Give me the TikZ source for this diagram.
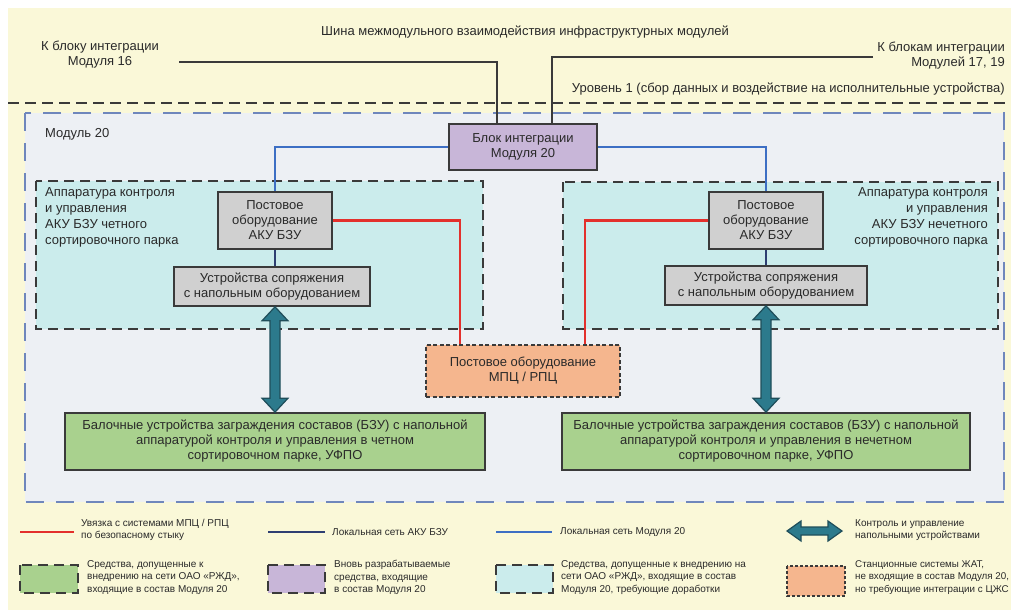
\documentclass[tikz,border=0pt]{standalone}
\usepackage{fontspec}
\setmainfont{Liberation Sans}
\usetikzlibrary{calc}
\definecolor{bgyellow}{HTML}{FAF8D8}
\definecolor{modfill}{HTML}{EDF0F4}
\definecolor{modedge}{HTML}{6F87BC}
\definecolor{cyanfill}{HTML}{CBECEC}
\definecolor{grayfill}{HTML}{D0D0D0}
\definecolor{purplefill}{HTML}{C8B6D8}
\definecolor{orangefill}{HTML}{F5B68E}
\definecolor{greenfill}{HTML}{A9D18E}
\definecolor{tealfill}{HTML}{2C7A8C}
\definecolor{tealedge}{HTML}{1F4E5A}
\definecolor{safered}{HTML}{E3302C}
\definecolor{lanblue}{HTML}{3D6FC4}
\definecolor{lannavy}{HTML}{2E3F72}
\definecolor{inkdark}{HTML}{2A2A2A}
\definecolor{edgedark}{HTML}{3A3A3A}
\newcommand\txt{\fontsize{13}{15}\selectfont}
\newcommand\legtxt{\fontsize{10}{12.5}\selectfont}
\begin{document}
\begin{tikzpicture}[x=1pt,y=-1pt,
  every node/.style={text=inkdark},
  box/.style={draw=edgedark, line width=1.6pt, align=center, font=\txt, inner sep=0pt},
  graybox/.style={box, fill=grayfill},
  greenbox/.style={box, fill=greenfill},
  purplebox/.style={box, fill=purplefill, line width=1.8pt},
  orangebox/.style={box, fill=orangefill, dash pattern=on 4pt off 2.5pt, line width=1.8pt},
  region/.style={fill=cyanfill, draw=edgedark, line width=1.9pt, dash pattern=on 10pt off 6pt},
  label/.style={font=\txt, align=left, inner sep=0pt},
  legend/.style={font=\legtxt, align=left, inner sep=0pt, anchor=west},
  bus/.style={draw=edgedark, line width=1.8pt},
  lan20/.style={draw=lanblue, line width=2.2pt},
  lanaku/.style={draw=lannavy, line width=1.9pt},
  safety/.style={draw=safered, line width=2.4pt},
  ctrlarrow/.style={fill=tealfill, draw=tealedge, line width=1.2pt, line join=miter},
  legbox/.style={fill=#1, draw=edgedark, line width=1.5pt, dash pattern=on 10pt off 6pt},
]
\useasboundingbox (0,0) rectangle (1015,614);
\fill[white] (0,0) rectangle (1015,614);
\fill[bgyellow] (8,8) rectangle (1011,610);

% level 1 boundary
\draw[edgedark, line width=1.6pt, dash pattern=on 11pt off 6pt] (8,103) -- (1011,103);
\node[label, anchor=south east] (lvl) at (1005,95) {Уровень 1 (сбор данных и воздействие на исполнительные устройства)};

% module 20 area
\draw[fill=modfill, draw=modedge, line width=1.5pt, dash pattern=on 18pt off 12pt] (25,113) rectangle (1004,502);
\node[label, anchor=west] (m20) at (45,134) {Модуль 20};

% even / odd yard regions
\draw[region] (36,181) rectangle (483,329);
\draw[region] (563,182) rectangle (998,329);
\node[label, anchor=north west, font=\fontsize{13}{16}\selectfont] (regLtxt) at (45,187)
  {Аппаратура контроля\\и управления\\АКУ БЗУ четного\\сортировочного парка};
\node[label, anchor=north east, align=right, font=\fontsize{13}{16}\selectfont] (regRtxt) at (988,187)
  {Аппаратура контроля\\и управления\\АКУ БЗУ нечетного\\сортировочного парка};

% top bus texts
\node[label, anchor=center] (bus) at (525,32) {Шина межмодульного взаимодействия инфраструктурных модулей};
\node[label, align=center, anchor=center] (k16) at (100,55) {К блоку интеграции\\Модуля 16};
\node[label, align=right, anchor=north east] (k17) at (1005,42) {К блокам интеграции\\Модулей 17, 19};

% boxes
\node[purplebox, minimum width=148, minimum height=46] (blk) at (523,147) {Блок интеграции\\Модуля 20};
\node[graybox, minimum width=114, minimum height=57] (pl) at (275,220.5) {Постовое\\оборудование\\АКУ БЗУ};
\node[graybox, minimum width=114, minimum height=57] (pr) at (766,220.5) {Постовое\\оборудование\\АКУ БЗУ};
\node[graybox, minimum width=196, minimum height=39] (ul) at (272,286.5) {Устройства сопряжения\\с напольным оборудованием};
\node[graybox, minimum width=202, minimum height=39] (ur) at (766,285.5) {Устройства сопряжения\\с напольным оборудованием};
\node[orangebox, minimum width=194, minimum height=52] (mpc) at (523,371) {Постовое оборудование\\МПЦ / РПЦ};
\node[greenbox, minimum width=420, minimum height=57] (gl) at (275,441.5)
  {Балочные устройства заграждения составов (БЗУ) с напольной\\аппаратурой контроля и управления в четном\\сортировочном парке, УФПО};
\node[greenbox, minimum width=408, minimum height=57] (gr) at (766,441.5)
  {Балочные устройства заграждения составов (БЗУ) с напольной\\аппаратурой контроля и управления в нечетном\\сортировочном парке, УФПО};

% inter-module bus
\coordinate (busL) at (179,62);
\coordinate (busR) at (873,57);
\draw[bus] (busL) -| ([xshift=-26pt]blk.north);
\draw[bus] (busR) -| ([xshift=29pt]blk.north);

% module 20 local network
\draw[lan20] (blk.west) -| (pl.north);
\draw[lan20] (blk.east) -| (pr.north);

% AKU BZU local network
\draw[lanaku] (pl.south) -- (pl.south |- ul.north);
\draw[lanaku] (pr.south) -- (pr.south |- ur.north);

% safe interface to interlocking
\draw[safety] (pl.east) -| ([xshift=-63pt]mpc.north);
\draw[safety] (pr.west) -| ([xshift=62pt]mpc.north);

% control of field devices (double arrows)
\filldraw[ctrlarrow] let \p1=(ul.south), \p2=(gl.north), \p3=(pl.south) in
  (\x3,\y1) -- (\x3+13,\y1-14) -- (\x3+5,\y1-14) -- (\x3+5,\y2+14) -- (\x3+13,\y2+14) -- (\x3,\y2)
  -- (\x3-13,\y2+14) -- (\x3-5,\y2+14) -- (\x3-5,\y1-14) -- (\x3-13,\y1-14) -- cycle;
\filldraw[ctrlarrow] let \p1=(ur.south), \p2=(gr.north), \p3=(pr.south) in
  (\x3,\y1) -- (\x3+13,\y1-14) -- (\x3+5,\y1-14) -- (\x3+5,\y2+14) -- (\x3+13,\y2+14) -- (\x3,\y2)
  -- (\x3-13,\y2+14) -- (\x3-5,\y2+14) -- (\x3-5,\y1-14) -- (\x3-13,\y1-14) -- cycle;

% legend, row 1
\draw[safety, line width=2.8pt] (20,532) -- (74,532);
\node[legend, anchor=north west] (lg1) at (81,519) {Увязка с системами МПЦ / РПЦ\\по безопасному стыку};
\draw[lanaku, line width=2.4pt] (268,532) -- (325,532);
\node[legend] (lg2) at (332,532) {Локальная сеть АКУ БЗУ};
\draw[lan20, line width=2.8pt] (496,532) -- (552,532);
\node[legend] (lg3) at (560,532) {Локальная сеть Модуля 20};
\coordinate (laL) at (787,531);
\coordinate (laR) at (842,531);
\filldraw[ctrlarrow] let \p1=(laL), \p2=(laR) in
  (\x1,\y1) -- (\x1+14,\y1+10) -- (\x1+14,\y1+4) -- (\x2-14,\y1+4) -- (\x2-14,\y1+10) -- (\x2,\y1)
  -- (\x2-14,\y1-10) -- (\x2-14,\y1-4) -- (\x1+14,\y1-4) -- (\x1+14,\y1-10) -- cycle;
\node[legend, anchor=north west] (lg4) at (855,519) {Контроль и управление\\напольными устройствами};

% legend, row 2
\draw[legbox=greenfill] (20,565) rectangle (78,593);
\node[legend, anchor=north west] (lg5) at (87,560) {Средства, допущенные к\\внедрению на сети ОАО «РЖД»,\\входящие в состав Модуля 20};
\draw[legbox=purplefill] (268,565) rectangle (325,593);
\node[legend, anchor=north west] (lg6) at (334,560) {Вновь разрабатываемые\\средства, входящие\\в состав Модуля 20};
\draw[legbox=cyanfill] (496,565) rectangle (553,593);
\node[legend, anchor=north west] (lg7) at (561,560) {Средства, допущенные к внедрению на\\сети ОАО «РЖД», входящие в состав\\Модуля 20, требующие доработки};
\draw[fill=orangefill, draw=edgedark, line width=1.5pt, dash pattern=on 3pt off 2pt] (787,566) rectangle (845,596);
\node[legend, anchor=north west, font=\fontsize{9.8}{12.5}\selectfont] (lg8) at (855,560) {Станционные системы ЖАТ,\\не входящие в состав Модуля 20,\\но требующие интеграции с ЦЖС};
\end{tikzpicture}
\end{document}
